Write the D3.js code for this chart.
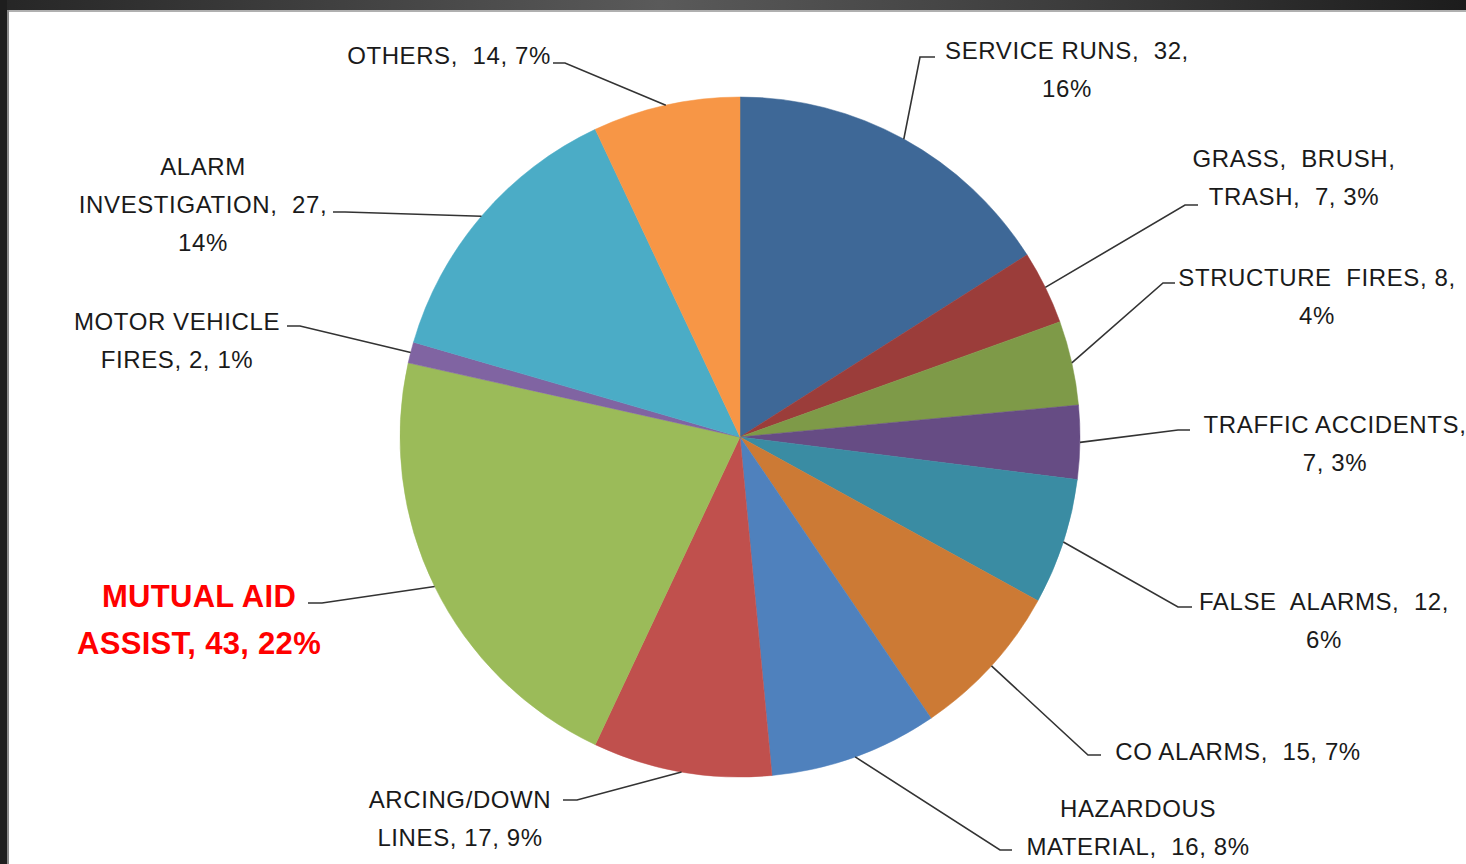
<!DOCTYPE html>
<html>
<head>
<meta charset="utf-8">
<script src="https://cdn.jsdelivr.net/npm/d3@7/dist/d3.min.js"></script>
<style>
  body { margin: 0; background: #fff; overflow: hidden; }
  text { font-family: "Liberation Sans", Arial, sans-serif; }
</style>
</head>
<body>
<script>

// call types, counts and the percent text shown on the chart
var categories = ["SERVICE RUNS", "GRASS, BRUSH, TRASH", "STRUCTURE FIRES", "TRAFFIC ACCIDENTS",
  "FALSE ALARMS", "CO ALARMS", "HAZARDOUS MATERIAL", "ARCING/DOWN LINES",
  "MUTUAL AID ASSIST", "MOTOR VEHICLE FIRES", "ALARM INVESTIGATION", "OTHERS"];
var counts = [32, 7, 8, 7, 12, 15, 16, 17, 43, 2, 27, 14];
var percents = ["16%", "3%", "4%", "3%", "6%", "7%", "8%", "9%", "22%", "1%", "14%", "7%"];

// how each label is broken over lines
var labelLines = [
  ["SERVICE RUNS,  32,", "16%"],
  ["GRASS,  BRUSH,", "TRASH,  7, 3%"],
  ["STRUCTURE  FIRES, 8,", "4%"],
  ["TRAFFIC ACCIDENTS,", "7, 3%"],
  ["FALSE  ALARMS,  12,", "6%"],
  ["CO ALARMS,  15, 7%"],
  ["HAZARDOUS", "MATERIAL,  16, 8%"],
  ["ARCING/DOWN", "LINES, 17, 9%"],
  ["MUTUAL AID", "ASSIST, 43, 22%"],
  ["MOTOR VEHICLE", "FIRES, 2, 1%"],
  ["ALARM", "INVESTIGATION,  27,", "14%"],
  ["OTHERS,  14, 7%"]
];

var colors = ["#3e6897", "#9b3d3a", "#7e9a48", "#664c84", "#3a8ca3", "#cc7a35",
  "#4f81bd", "#c0504d", "#9bbb59", "#8064a2", "#4bacc6", "#f79646"];

// label placement (text centre x / first line centre y, leader knee, leader end x)
var labelPlace = [
  {cx: 1067, cy: 50,  kx: 920,  ky: 57,  ex: 935},
  {cx: 1294, cy: 158, kx: 1185, ky: 205, ex: 1198},
  {cx: 1317, cy: 277, kx: 1163, ky: 283, ex: 1175},
  {cx: 1335, cy: 424, kx: 1178, ky: 430, ex: 1190},
  {cx: 1324, cy: 601, kx: 1178, ky: 607, ex: 1192},
  {cx: 1238, cy: 751, kx: 1088, ky: 755, ex: 1101},
  {cx: 1138, cy: 808, kx: 1000, ky: 850, ex: 1012},
  {cx: 460,  cy: 799, kx: 577,  ky: 800, ex: 563},
  {cx: 199,  cy: 596, kx: 322,  ky: 603, ex: 308},
  {cx: 177,  cy: 321, kx: 300,  ky: 326, ex: 287},
  {cx: 203,  cy: 166, kx: 345,  ky: 212, ex: 333},
  {cx: 449,  cy: 55,  kx: 565,  ky: 63,  ex: 553}
];

var width = 1466, height = 864;
var cx = 740, cy = 437, radius = 340;

var svg = d3.select("body").append("svg")
    .attr("width", width)
    .attr("height", height);

// dark frame at the top and left
var defs = svg.append("defs");
var grad = defs.append("linearGradient").attr("id", "topband");
grad.append("stop").attr("offset", "0%").attr("stop-color", "#262626");
grad.append("stop").attr("offset", "45%").attr("stop-color", "#5a5a5a");
grad.append("stop").attr("offset", "75%").attr("stop-color", "#3a3a3a");
grad.append("stop").attr("offset", "100%").attr("stop-color", "#1c1c1c");

svg.append("rect").attr("x", 0).attr("y", 0).attr("width", width).attr("height", 10)
    .attr("fill", "url(#topband)");
svg.append("rect").attr("x", 0).attr("y", 10).attr("width", width).attr("height", 2)
    .attr("fill", "#b0b0b0");
svg.append("rect").attr("x", 0).attr("y", 0).attr("width", 7).attr("height", height)
    .attr("fill", "#1e1e1e");
svg.append("rect").attr("x", 7).attr("y", 10).attr("width", 2).attr("height", height)
    .attr("fill", "#8a8a8a");

var pie = d3.pie().sort(null).value(function(d) { return d; });
var arcs = pie(counts);

var arc = d3.arc().innerRadius(0).outerRadius(radius);

var g = svg.append("g").attr("transform", "translate(" + cx + "," + cy + ")");

g.selectAll("path.slice")
    .data(arcs)
    .enter().append("path")
    .attr("class", "slice")
    .attr("d", arc)
    .attr("fill", function(d, i) { return colors[i]; })
    .attr("stroke", function(d, i) { return colors[i]; })
    .attr("stroke-width", 0.5);

// leader lines from the middle of each slice edge
svg.selectAll("polyline.leader")
    .data(arcs)
    .enter().append("polyline")
    .attr("class", "leader")
    .attr("points", function(d, i) {
      var a = (d.startAngle + d.endAngle) / 2;
      var x0 = cx + radius * Math.sin(a);
      var y0 = cy - radius * Math.cos(a);
      var p = labelPlace[i];
      return [x0, y0, p.kx, p.ky, p.ex, p.ky].join(",");
    })
    .attr("fill", "none")
    .attr("stroke", "#333")
    .attr("stroke-width", 1.6);

// labels
var labels = svg.selectAll("g.label")
    .data(arcs)
    .enter().append("g")
    .attr("class", "label");

labels.each(function(d, i) {
  var p = labelPlace[i];
  var big = (i === 8);
  var t = d3.select(this).append("text")
      .attr("text-anchor", "middle")
      .attr("font-size", big ? "31px" : "24px")
      .attr("font-weight", big ? "bold" : "normal")
      .attr("letter-spacing", big ? "0.3px" : "0.6px")
      .attr("fill", big ? "#ff0000" : "#1a1a1a")
      .style("white-space", "pre");
  labelLines[i].forEach(function(line, j) {
    t.append("tspan")
      .attr("x", p.cx)
      .attr("y", p.cy + j * (big ? 47 : 38))
      .attr("dy", "0.36em")
      .text(line);
  });
});

</script>
</body>
</html>
